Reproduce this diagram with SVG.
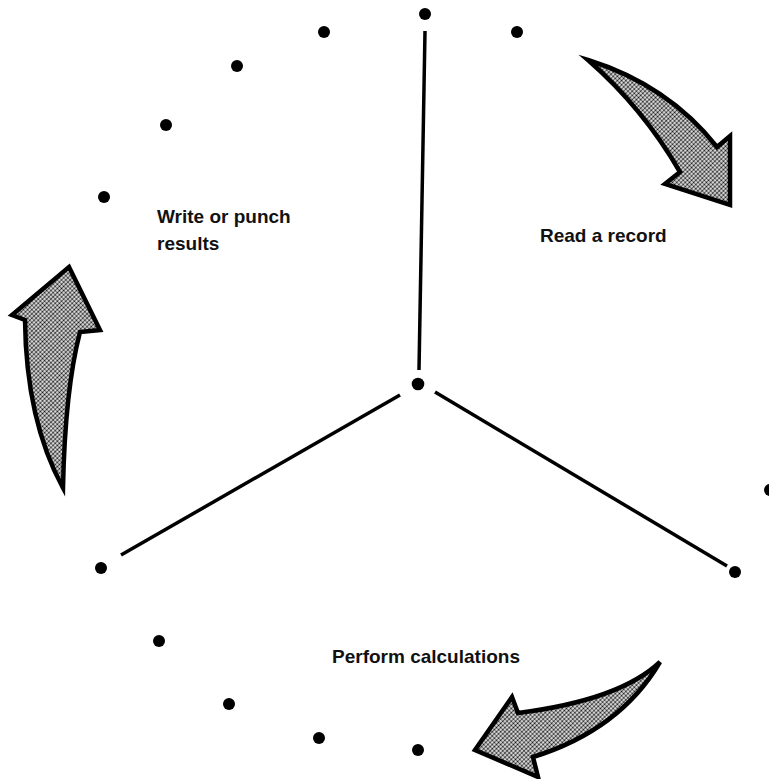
<svg xmlns="http://www.w3.org/2000/svg" width="769" height="779" viewBox="0 0 769 779">
  <defs>
    <!-- halftone screen used inside the cycle arrows -->
    <pattern id="screen" width="3" height="3" patternUnits="userSpaceOnUse" patternTransform="rotate(45)">
      <rect width="3" height="3" fill="#ffffff"/>
      <circle cx="1.5" cy="1.5" r="1.15" fill="#111111"/>
    </pattern>
  </defs>
  <style>
    .dot { fill: #000; }
    .spoke { stroke: #000; stroke-width: 3.5; stroke-linecap: butt; fill: none; }
    .cycle-arrow { fill: url(#screen); stroke: #000; stroke-width: 4.5; stroke-linejoin: miter; stroke-miterlimit: 6; }
    .label { font-family: "Liberation Sans", Arial, Helvetica, sans-serif; font-size: 19px; font-weight: bold; fill: #111; }
  </style>

  <rect width="769" height="779" fill="#ffffff"/>

  <!-- three spokes from the hub -->
  <g id="spokes">
    <line class="spoke" x1="425" y1="31" x2="419" y2="370"/>
    <line class="spoke" x1="435" y1="392" x2="727" y2="566"/>
    <line class="spoke" x1="400" y1="395" x2="121" y2="555"/>
  </g>

  <!-- hub and rim dots -->
  <g id="hub"><circle class="dot" cx="418" cy="384" r="6.3"/></g>
  <g id="rim">
    <circle class="dot" cx="425" cy="14" r="6"/>
    <circle class="dot" cx="517" cy="32" r="6"/>
    <circle class="dot" cx="324" cy="32" r="6"/>
    <circle class="dot" cx="237" cy="66" r="6"/>
    <circle class="dot" cx="166" cy="125" r="6"/>
    <circle class="dot" cx="104" cy="197" r="6"/>
    <circle class="dot" cx="735" cy="572" r="6"/>
    <circle class="dot" cx="101" cy="568" r="6"/>
    <circle class="dot" cx="159" cy="641" r="6"/>
    <circle class="dot" cx="229" cy="704" r="6"/>
    <circle class="dot" cx="319" cy="738" r="6"/>
    <circle class="dot" cx="418" cy="750" r="6"/>
    <circle class="dot" cx="770" cy="490" r="6"/>
  </g>

  <!-- curved cycle arrows -->
  <g id="arrow-read">
    <path class="cycle-arrow" d="M588,60 Q668,85 717,147 L730,136 L730,205 L665,184 L680,172 Q643,108 588,60 Z"/>
  </g>
  <g id="arrow-calc">
    <path class="cycle-arrow" d="M660,662 Q620,700 518,713 L512,697 L475,750 L538,777 L533,757 Q620,730 660,662 Z"/>
  </g>
  <g id="arrow-write">
    <path class="cycle-arrow" d="M69,267 L100,330 L80,332 Q65,390 63,488 Q26,420 25,320 L12,315 Z"/>
  </g>

  <!-- step labels -->
  <g id="label-write">
    <text class="label" x="157" y="223">Write or punch</text>
    <text class="label" x="157" y="250">results</text>
  </g>
  <g id="label-read">
    <text class="label" x="540" y="242">Read a record</text>
  </g>
  <g id="label-calc">
    <text class="label" x="332" y="663">Perform calculations</text>
  </g>
</svg>
